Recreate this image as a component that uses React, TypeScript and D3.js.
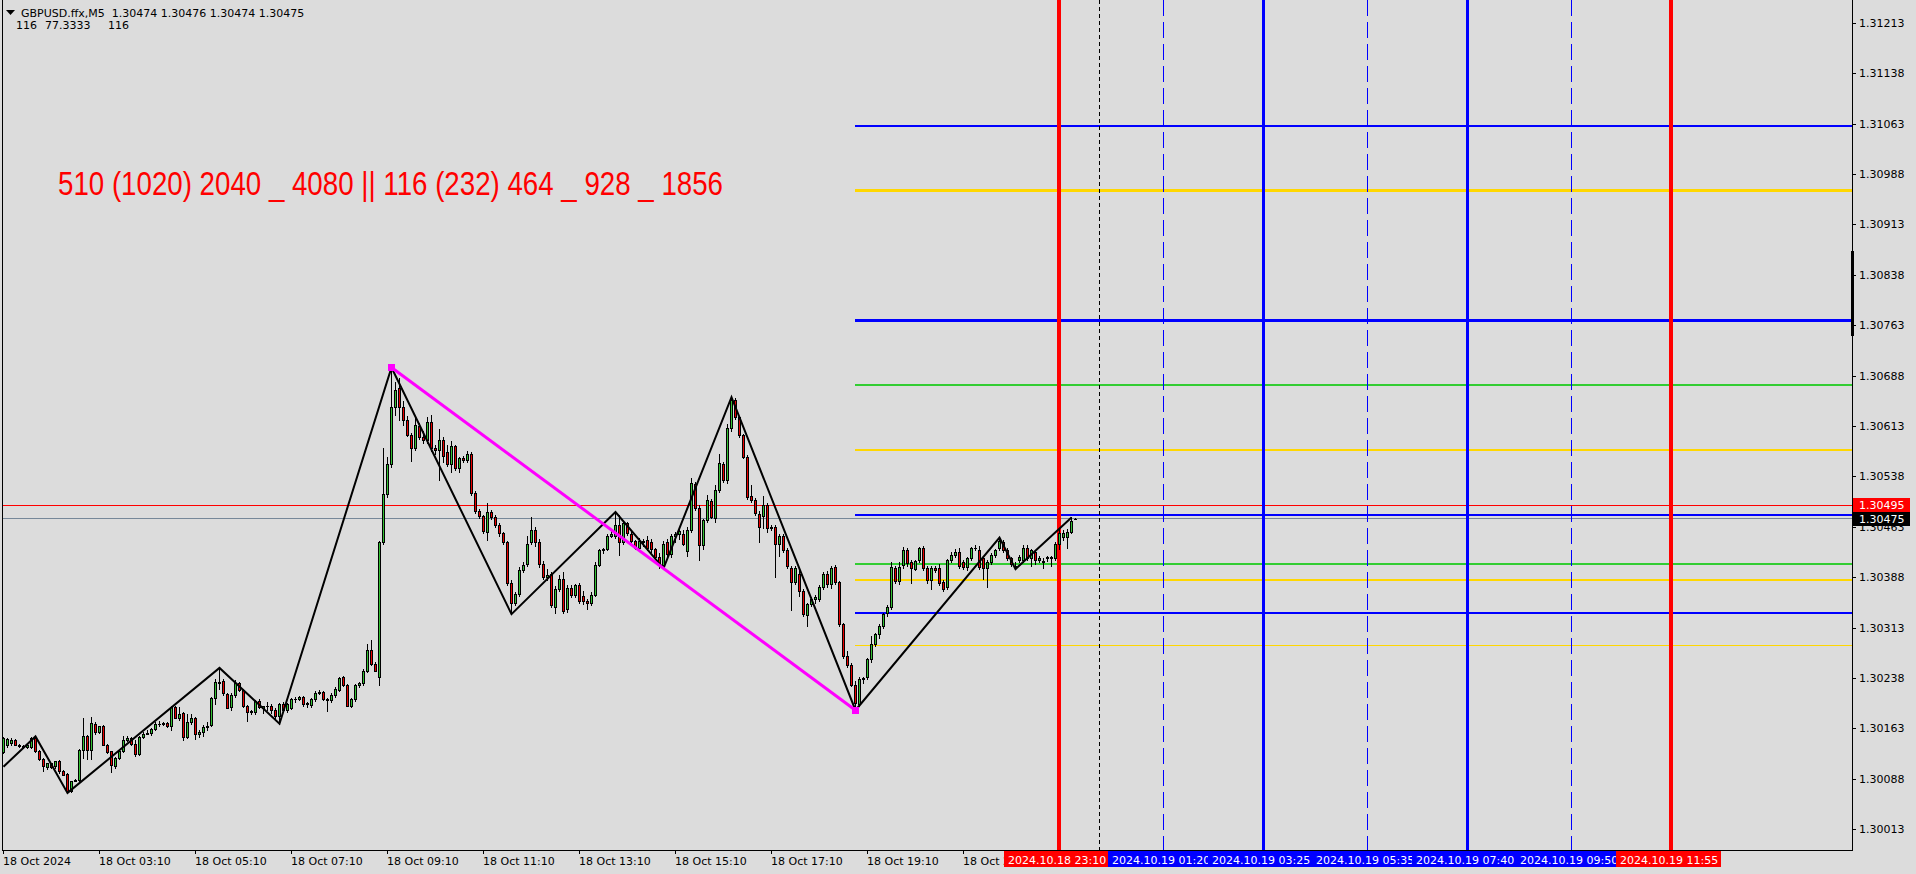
import React from 'react';
import * as d3 from 'd3';

// ---------------- DATA ----------------
const symbolTitle = 'GBPUSD.ffx,M5';
const lastQuote = ['1.30474', '1.30476', '1.30474', '1.30475'];
const infoValues = ['116', '77.3333', '116'];
const bannerText = '510 (1020) 2040 _ 4080 || 116 (232) 464 _ 928 _ 1856';

const BASE = 1.3; // prices below are in points (1e-5) above BASE
const firstBarTime = '2024.10.18 01:10';

const opens = [
  128,138,141,145,139,137,135,135,149,129,
  117,105,111,107,114,100,95,70,85,86,
  131,151,131,170,158,166,139,129,107,119,
  129,146,148,140,125,150,155,156,162,169,
  169,171,166,195,178,186,150,172,178,154,
  158,165,168,208,230,233,214,195,213,230,
  220,196,188,187,204,194,196,196,191,181,
  200,191,194,206,207,209,199,198,206,216,
  217,206,205,212,220,239,227,197,206,228,
  230,249,280,259,240,441,512,556,642,669,
  642,622,600,581,613,597,592,619,581,577,
  592,575,557,583,551,565,563,571,514,486,
  479,456,485,477,466,454,440,380,350,363,
  398,408,440,458,441,408,389,393,343,371,
  386,340,372,362,376,360,352,349,362,406,
  428,430,450,449,466,441,468,453,442,432,
  440,443,440,430,418,406,441,422,449,452,
  453,427,458,527,491,436,473,502,476,518,
  556,532,610,651,626,599,567,509,503,482,
  479,495,461,463,437,449,428,401,381,393,
  368,331,348,356,356,373,393,378,403,381,
  318,270,258,228,200,236,240,266,288,303,
  316,334,343,401,382,406,428,411,400,413,
  432,401,384,401,401,381,373,413,421,426,
  411,403,416,431,428,416,401,411,421,431,
  441,429,416,404,414,414,432,416,426,414,
  412,416,418,417,437,448,448,456,474,
];
const highs = [
  150,149,148,147,140,138,140,150,151,131,
  119,112,112,115,116,101,96,84,87,133,
  179,153,180,172,167,168,140,130,120,130,
  152,151,150,146,152,158,160,164,172,174,
  172,173,197,197,195,187,185,185,180,160,
  168,172,209,237,253,236,216,215,235,232,
  222,198,191,205,206,197,203,199,193,201,
  203,201,208,210,211,211,203,208,218,220,
  219,208,215,224,240,241,229,208,229,232,
  252,289,294,262,442,580,567,700,679,684,
  650,628,602,627,617,606,627,630,585,608,
  597,584,590,585,567,568,576,574,517,490,
  481,498,488,480,468,456,442,384,366,403,
  410,450,478,462,445,412,400,396,375,392,
  395,376,377,378,380,368,356,366,410,430,
  432,452,458,485,481,470,470,456,444,446,
  445,450,445,432,424,442,445,452,455,460,
  458,462,536,530,495,475,510,505,525,571,
  560,616,656,654,628,601,570,525,506,486,
  509,498,465,466,453,452,431,404,405,400,
  370,350,358,362,376,395,397,404,406,383,
  320,278,260,234,240,240,268,300,305,318,
  335,346,411,404,410,433,431,414,414,433,
  434,404,405,405,408,384,415,425,430,431,
  414,418,433,436,435,420,414,424,430,447,
  444,431,418,410,421,436,436,430,428,420,
  416,420,420,440,459,458,459,477,476,
];
const lows = [
  126,135,139,138,136,134,134,134,128,116,
  99,102,104,104,96,93,67,68,84,85,
  119,118,118,155,156,138,127,98,104,117,
  128,144,138,122,124,148,154,153,160,167,
  168,165,160,178,175,146,148,170,147,150,
  151,160,166,200,222,212,193,190,210,219,
  195,174,185,184,193,186,190,186,179,170,
  190,188,192,203,205,197,195,195,204,214,
  205,189,202,210,218,226,196,195,204,225,
  228,247,258,248,227,437,507,552,630,622,
  614,598,561,578,594,588,588,576,571,533,
  560,553,545,548,545,560,560,510,484,476,
  454,443,474,463,450,437,376,333,347,360,
  395,405,437,435,403,385,384,343,335,368,
  334,336,358,358,350,348,340,347,360,404,
  424,428,448,446,421,438,451,440,430,428,
  435,428,425,415,402,401,420,418,440,445,
  436,420,455,488,414,430,470,476,470,515,
  530,528,605,624,596,565,505,500,480,440,
  461,455,458,388,420,426,402,339,378,360,
  330,316,345,350,352,370,373,372,378,316,
  268,255,226,190,197,230,236,262,285,298,
  312,330,340,379,378,402,405,380,398,410,
  398,380,371,396,376,368,370,410,418,402,
  400,398,413,428,400,386,373,408,418,429,
  426,414,405,400,410,410,414,404,408,410,
  402,412,404,414,430,444,432,454,474,
];
const closes = [
  148,147,145,138,137,135,139,149,130,117,
  107,111,106,114,99,94,70,84,86,131,
  151,131,171,157,166,139,128,108,119,129,
  146,148,140,125,150,155,156,162,169,169,
  171,166,195,179,185,150,172,178,154,158,
  165,166,208,232,232,215,194,213,230,220,
  197,188,189,204,195,196,197,191,181,199,
  191,199,206,207,209,199,201,206,216,217,
  206,205,213,222,238,227,197,206,228,230,
  249,280,259,249,440,512,556,642,667,642,
  622,600,580,614,597,592,619,581,577,592,
  569,557,583,551,565,563,572,513,486,479,
  457,485,477,466,454,440,380,350,363,398,
  406,438,458,441,408,388,392,346,371,386,
  338,372,362,376,353,352,350,362,406,428,
  430,450,453,466,441,468,454,442,432,442,
  442,432,430,418,406,438,422,449,452,457,
  437,458,528,491,436,473,503,478,518,558,
  532,610,651,626,599,567,508,503,483,463,
  495,461,463,437,449,428,405,381,401,368,
  333,348,356,358,373,393,378,401,381,318,
  270,258,228,201,236,238,266,288,303,316,
  333,343,403,382,403,428,409,401,412,432,
  401,384,401,399,379,371,413,421,426,404,
  403,416,431,432,403,401,411,421,428,442,
  429,416,408,403,418,432,416,428,414,416,
  410,418,417,437,454,454,456,472,475,
];

const zigzagBars = [0, 8, 16, 54, 69, 97, 127, 153, 165, 182, 213, 249, 253, 267];
const zigzagPoints = [106, 151, 67, 253, 170, 700, 333, 485, 401, 656, 190, 447, 400, 477];
const swingBars = [97, 213];
const swingPoints = [700, 190];

const blueLevels = [1.3106, 1.3077, 1.3048, 1.30335];
const goldLevels = [1.30964, 1.30577, 1.30384, 1.30287];
const greenLevels = [1.30674, 1.30407];

const askPrice = 1.30495;
const bidPrice = 1.30475;

const priceTicks = [
  1.31213, 1.31138, 1.31063, 1.30988, 1.30913, 1.30838, 1.30763, 1.30688, 1.30613,
  1.30538, 1.30463, 1.30388, 1.30313, 1.30238, 1.30163, 1.30088, 1.30013,
];
const timeTickBars = [0, 24, 48, 72, 96, 120, 144, 168, 192, 216, 240];
const timeTickLabels = [
  '18 Oct 2024', '18 Oct 03:10', '18 Oct 05:10', '18 Oct 07:10', '18 Oct 09:10',
  '18 Oct 11:10', '18 Oct 13:10', '18 Oct 15:10', '18 Oct 17:10', '18 Oct 19:10', '18 Oct 21:10',
];

const vLineTimes = [
  '2024.10.18 23:10', '2024.10.19 01:20', '2024.10.19 03:25', '2024.10.19 05:35',
  '2024.10.19 07:40', '2024.10.19 09:50', '2024.10.19 11:55',
];
const vLineKinds = ['red', 'dash', 'solid', 'dash', 'solid', 'dash', 'red'];
const daySeparatorTime = '2024.10.19 00:00';

// ---------------- STYLE / LAYOUT ----------------
const W = 1916;
const H = 874;
const BG = '#dcdcdc';
const PLOT_L = 2;
const PLOT_R = 1852;
const PLOT_B = 850;
const FONT = '"DejaVu Sans", Verdana, sans-serif';
const BLUE = '#0000ff';
const GOLD = '#ffd700';
const GREEN = '#32cd32';
const RED = '#ff0000';
const blueWidths = [2, 3, 2, 2];
const goldWidths = [3, 2, 2, 1];
const greenWidths = [2, 2];

function parseT(s: string) {
  const m = s.match(/(\d+)\.(\d+)\.(\d+) (\d+):(\d+)/)!;
  return Date.UTC(+m[1], +m[2] - 1, +m[3], +m[4], +m[5]);
}
const t0 = parseT(firstBarTime);
const barOf = (s: string) => (parseT(s) - t0) / 300000;

export default function App() {
  const yScale = d3.scaleLinear().domain([1.29982, 1.31247]).range([PLOT_B, 0]);
  const xScale = d3.scaleLinear().domain([0, 100]).range([3.5, 403.5]);
  const yp = (pts: number) => yScale(BASE + pts / 1e5);
  const col = (i: number) => Math.floor(xScale(i));

  const hRect = (key: string, yc: number, x1: number, x2: number, lw: number, fill: string) => (
    <rect key={key} x={x1} y={Math.round(yc - lw / 2)} width={x2 - x1} height={lw} fill={fill} />
  );

  const levelStart = col(swingBars[1]);

  const candles = opens.map((o, i) => {
    const c = closes[i];
    const cx = col(i);
    const yH = Math.round(yp(highs[i]));
    const yL = Math.round(yp(lows[i]));
    const yO = Math.round(yp(o));
    const yC = Math.round(yp(c));
    const top = Math.min(yO, yC);
    const bot = Math.max(yO, yC);
    const bull = c >= o;
    return (
      <g key={'c' + i}>
        <rect x={cx} y={yH} width={1} height={Math.max(1, yL - yH + 1)} fill="#000" />
        <rect x={cx - 1} y={top} width={3} height={bot - top + 1} fill="#000" />
        {bot - top > 1 && (
          <rect x={cx} y={top + 1} width={1} height={bot - top - 1} fill={bull ? '#33c033' : '#e80000'} />
        )}
      </g>
    );
  });

  const zz = d3
    .line<number>()
    .x((b) => xScale(b))
    .y((_, k) => yp(zigzagPoints[k]))(zigzagBars);

  const swing = d3
    .line<number>()
    .x((b) => xScale(b))
    .y((_, k) => yp(swingPoints[k]))(swingBars);

  const sepX = col(barOf(daySeparatorTime));

  return (
    <div style={{ position: 'fixed', left: 0, top: 0 }}>
      <svg width={W} height={H} style={{ display: 'block' }} shapeRendering="crispEdges">
        <defs>
          <clipPath id="plot">
            <rect x={PLOT_L + 1} y={0} width={PLOT_R - PLOT_L - 1} height={PLOT_B} />
          </clipPath>
          <clipPath id="lastTick">
            <rect x={0} y={PLOT_B} width={col(barOf(vLineTimes[0])) - 55} height={H - PLOT_B} />
          </clipPath>
        </defs>
        <rect x={0} y={0} width={W} height={H} fill={BG} />

        <g clipPath="url(#plot)">
          {/* ask / bid lines */}
          {hRect('ask', yScale(askPrice), PLOT_L, PLOT_R, 1, RED)}
          {hRect('bid', yScale(bidPrice), PLOT_L, PLOT_R, 1, '#778899')}

          {/* level lines */}
          {blueLevels.map((p, k) => hRect('bl' + k, yScale(p), levelStart, PLOT_R, blueWidths[k], BLUE))}
          {goldLevels.map((p, k) => hRect('gl' + k, yScale(p), levelStart, PLOT_R, goldWidths[k], GOLD))}
          {greenLevels.map((p, k) => hRect('grl' + k, yScale(p), levelStart, PLOT_R, greenWidths[k], GREEN))}

          {/* vertical lines */}
          {vLineTimes.map((t, k) => {
            const xc = col(barOf(t));
            const kind = vLineKinds[k];
            if (kind === 'red') return <rect key={'v' + k} x={xc - 2} y={0} width={4} height={PLOT_B} fill={RED} />;
            if (kind === 'solid') return <rect key={'v' + k} x={xc - 1} y={0} width={3} height={PLOT_B} fill={BLUE} />;
            return (
              <line key={'v' + k} x1={xc + 0.5} x2={xc + 0.5} y1={0} y2={PLOT_B} stroke={BLUE} strokeWidth={1} strokeDasharray="16,6" />
            );
          })}
          <line x1={sepX + 0.5} x2={sepX + 0.5} y1={0} y2={PLOT_B} stroke="#000" strokeWidth={1} strokeDasharray="4,3" />

          {candles}

          <path d={zz || ''} fill="none" stroke="#000" strokeWidth={2} shapeRendering="auto" />
          <path d={swing || ''} fill="none" stroke="#ff00ff" strokeWidth={3} shapeRendering="auto" />
          {swingBars.map((b, k) => (
            <rect key={'sq' + k} x={xScale(b) - 3.5} y={yp(swingPoints[k]) - 3.5} width={7} height={7} fill="#ff00ff" />
          ))}
        </g>

        {/* frame */}
        <rect x={PLOT_L} y={0} width={1} height={PLOT_B + 1} fill="#000" />
        <rect x={PLOT_L} y={PLOT_B} width={PLOT_R - PLOT_L + 1} height={1} fill="#000" />
        <rect x={PLOT_R} y={0} width={1} height={PLOT_B + 1} fill="#000" />
        <rect x={PLOT_R - 1} y={251} width={3} height={85} fill="#000" />

        {/* price axis */}
        {priceTicks.map((p, k) => {
          const yy = Math.round(yScale(p));
          return (
            <g key={'pt' + k}>
              <rect x={PLOT_R + 1} y={yy} width={3} height={1} fill="#000" />
              <text x={1859} y={yy + 4} fontFamily={FONT} fontSize={11} fill="#000">
                {d3.format('.5f')(p)}
              </text>
            </g>
          );
        })}
        {[
          { p: askPrice, bg: RED },
          { p: bidPrice, bg: '#000' },
        ].map((b, k) => {
          const yy = Math.round(yScale(b.p));
          return (
            <g key={'pb' + k}>
              <rect x={PLOT_R + 1} y={yy - 7} width={57} height={14} fill={b.bg} />
              <text x={1859} y={yy + 4} fontFamily={FONT} fontSize={11} fill="#fff">
                {d3.format('.5f')(b.p)}
              </text>
            </g>
          );
        })}

        {/* time axis */}
        {timeTickBars.map((b, k) => {
          const xc = col(b);
          return (
            <g key={'tt' + k}>
              <rect x={xc} y={PLOT_B} width={1} height={4} fill="#000" />
              <text
                x={xc}
                y={865}
                fontFamily={FONT}
                fontSize={11}
                fill="#000"
                clipPath={k === timeTickBars.length - 1 ? 'url(#lastTick)' : undefined}
              >
                {timeTickLabels[k]}
              </text>
            </g>
          );
        })}
        {vLineTimes.map((t, k) => {
          const xc = col(barOf(t));
          return (
            <g key={'vl' + k}>
              <rect x={xc - 55} y={851} width={105} height={16} fill={vLineKinds[k] === 'red' ? RED : BLUE} />
              <text x={xc - 51} y={864} fontFamily={FONT} fontSize={11} fill="#fff">
                {t}
              </text>
            </g>
          );
        })}

        {/* header */}
        <polygon points="6,10 15,10 10.5,15" fill="#000" shapeRendering="auto" />
        <text x={21} y={17} fontFamily={FONT} fontSize={11} fill="#000" style={{ whiteSpace: 'pre' }}>
          {symbolTitle + '  ' + lastQuote.join(' ')}
        </text>
        <text x={16} y={29} fontFamily={FONT} fontSize={11} fill="#000">
          {infoValues[0]}
        </text>
        <text x={45} y={29} fontFamily={FONT} fontSize={11} fill="#000">
          {infoValues[1]}
        </text>
        <text x={108} y={29} fontFamily={FONT} fontSize={11} fill="#000">
          {infoValues[2]}
        </text>

        {/* banner */}
        <text
          x={58}
          y={195}
          fontFamily='"Liberation Sans Narrow", "Arial Narrow", "Liberation Sans", Arial, sans-serif'
          fontSize={34}
          fill={RED}
          textLength={665}
          lengthAdjust="spacingAndGlyphs"
          shapeRendering="auto"
        >
          {bannerText}
        </text>
      </svg>
    </div>
  );
}
